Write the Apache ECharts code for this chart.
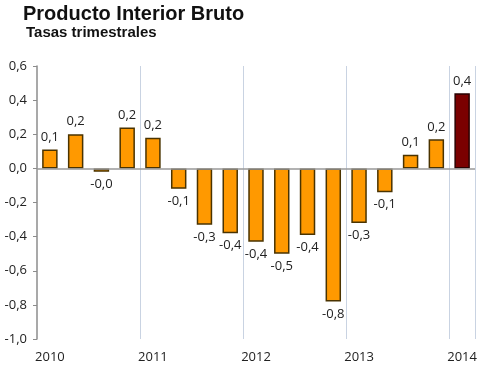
<!DOCTYPE html>
<html>
<head>
<meta charset="utf-8">
<script src="https://cdn.jsdelivr.net/npm/echarts@6/dist/echarts.min.js"></script>
<style>html,body{margin:0;padding:0;background:#fff;}#c{width:483px;height:370px;}</style>
</head>
<body>
<div id="c"></div>
<script>
var categories = ['2010T1','2010T2','2010T3','2010T4','2011T1','2011T2','2011T3','2011T4','2012T1','2012T2','2012T3','2012T4','2013T1','2013T2','2013T3','2013T4','2014T1'];
var values = [0.11, 0.20, -0.02, 0.24, 0.18, -0.12, -0.33, -0.38, -0.43, -0.50, -0.39, -0.78, -0.32, -0.14, 0.08, 0.17, 0.44];
var yTicks = [-1.0, -0.8, -0.6, -0.4, -0.2, 0.0, 0.2, 0.4, 0.6];
var highlightIndex = values.length - 1;

function fmt(v){ return v.toFixed(1).replace('.', ','); }

var chart = echarts.init(document.getElementById('c'), null, {renderer:'canvas'});
var font = 'Open Sans';
var data = values.map(function(v, i){
  if (i === highlightIndex) {
    return {value: v, itemStyle: {color: '#7b0000', borderColor: '#2a0000'}};
  }
  return v;
});
chart.setOption({
  animation: false,
  title: [
    {text: 'Producto Interior Bruto', left: 23, top: 4, padding: 0,
     textStyle: {fontFamily: 'Liberation Sans', fontWeight: 'bold', fontSize: 20, color: '#111'}},
    {text: 'Tasas trimestrales', left: 26, top: 25, padding: 0,
     textStyle: {fontFamily: 'Liberation Sans', fontWeight: 'bold', fontSize: 15, color: '#111'}}
  ],
  grid: {left: 37, right: 8, top: 66, bottom: 31, containLabel: false},
  xAxis: {
    type: 'category',
    data: categories,
    boundaryGap: true,
    axisLine: {show: false, onZero: false},
    axisTick: {show: false},
    axisLabel: {
      interval: 0, margin: 12, color: '#222', fontFamily: font, fontSize: 13,
      formatter: function(v){ return v.slice(4) === 'T1' ? v.slice(0,4) : ''; }
    },
    splitLine: {
      show: true,
      interval: function(index){ return index > 0 && index % 4 === 0; },
      lineStyle: {color: '#c9d3e2', width: 1}
    }
  },
  yAxis: {
    type: 'value',
    min: yTicks[0], max: yTicks[yTicks.length-1], interval: 0.2,
    axisLine: {show: true, lineStyle: {color: '#8c8c8c', width: 1.5}},
    axisTick: {show: true, length: 4, lineStyle: {color: '#8c8c8c'}},
    axisLabel: {margin: 10, color: '#222', fontFamily: font, fontSize: 13, formatter: fmt},
    splitLine: {show: false}
  },
  series: [{
    type: 'bar',
    data: data,
    barWidth: '60%',
    itemStyle: {color: '#ff9900', borderColor: '#4a3300', borderWidth: 1.5},
    label: {
      show: true, position: 'outside', distance: 6,
      fontFamily: font, fontSize: 13, color: '#222',
      formatter: function(p){ return fmt(p.value); }
    },
    markLine: {
      silent: true, symbol: 'none',
      label: {show: false},
      lineStyle: {color: '#999', width: 1.5, type: 'solid'},
      data: [{yAxis: 0}]
    }
  }]
});
</script>
</body>
</html>
